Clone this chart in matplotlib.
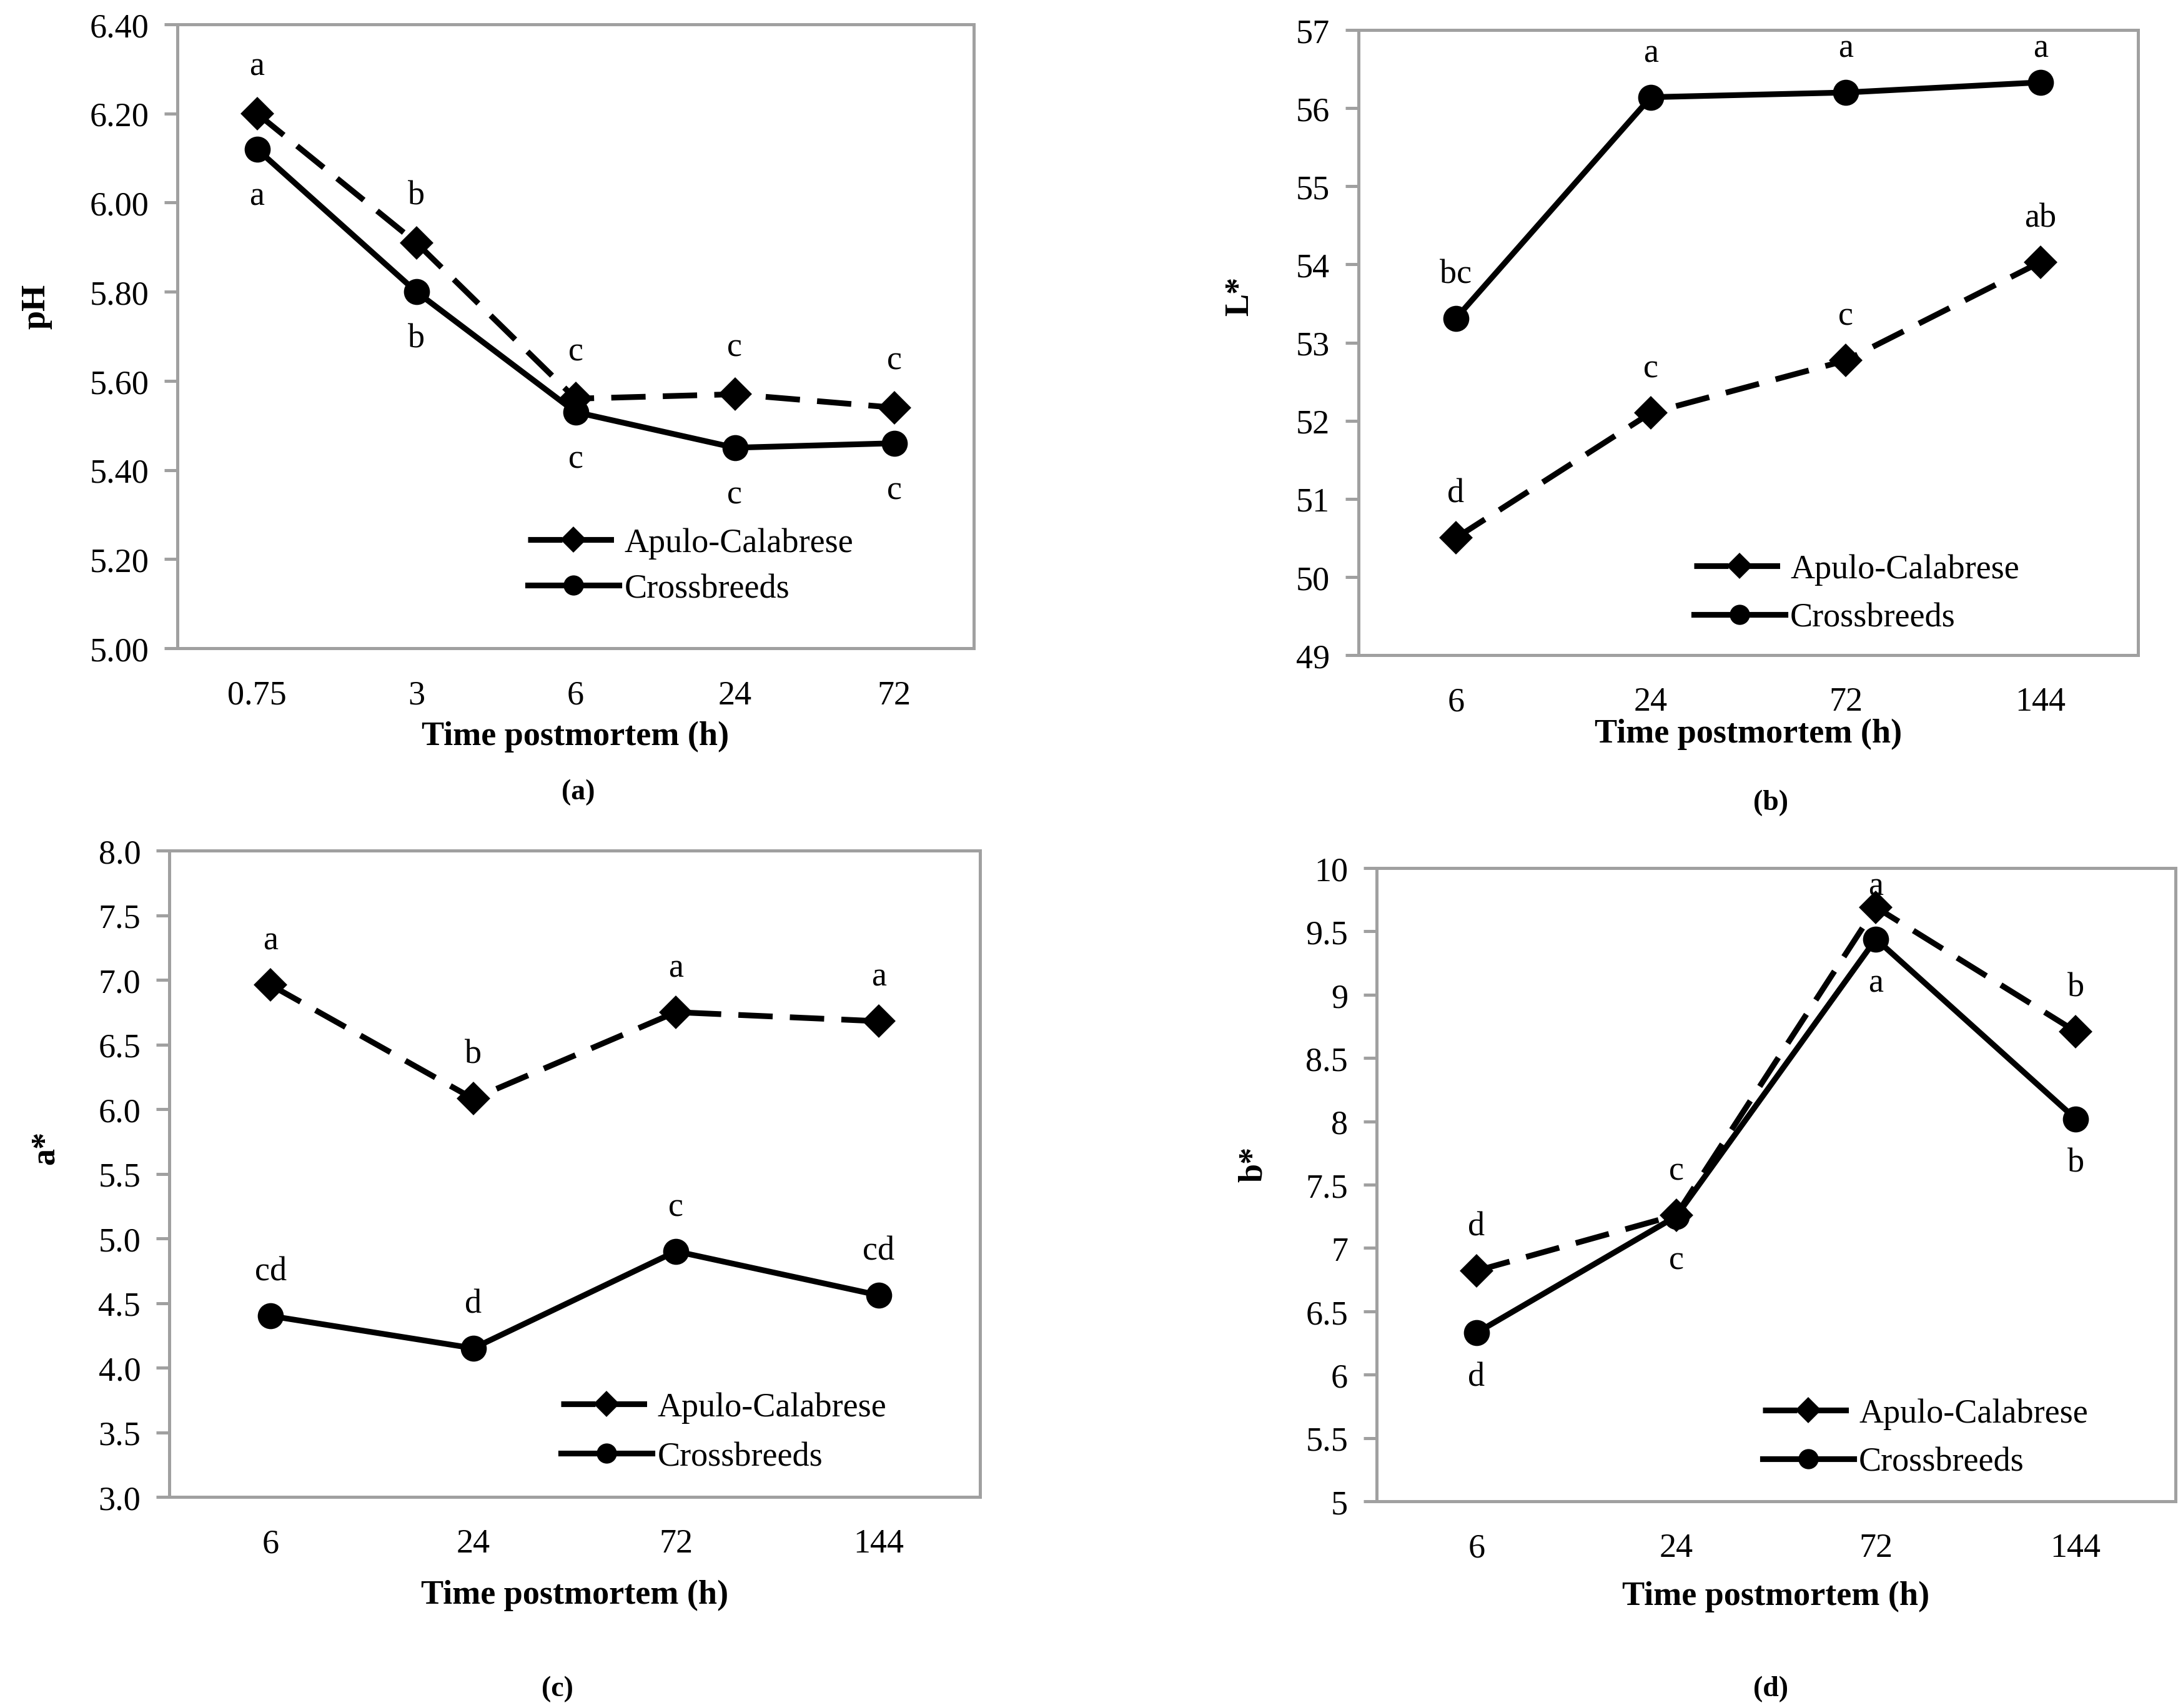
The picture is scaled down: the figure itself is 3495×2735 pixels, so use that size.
import matplotlib
matplotlib.use('Agg')
from matplotlib import pyplot as plt
import numpy as np

plt.rcParams['font.family'] = ['Liberation Serif', 'DejaVu Serif']

# ---- data ----
breeds = ['Apulo-Calabrese', 'Crossbreeds']

# (a) pH
times_a = ['0.75', '3', '6', '24', '72']
ph_apulo = [6.20, 5.91, 5.56, 5.57, 5.54]
ph_cross = [6.12, 5.80, 5.53, 5.45, 5.46]
ph_apulo_let = ['a', 'b', 'c', 'c', 'c']
ph_cross_let = ['a', 'b', 'c', 'c', 'c']

# (b) L*
times_bcd = ['6', '24', '72', '144']
L_apulo = [50.50, 52.10, 52.77, 54.03]
L_cross = [53.31, 56.14, 56.20, 56.33]
L_apulo_let = ['d', 'c', 'c', 'ab']
L_cross_let = ['bc', 'a', 'a', 'a']

# (c) a*
a_apulo = [6.96, 6.08, 6.75, 6.68]
a_cross = [4.40, 4.15, 4.90, 4.56]
a_apulo_let = ['a', 'b', 'a', 'a']
a_cross_let = ['cd', 'd', 'c', 'cd']

# (d) b*
b_apulo = [6.82, 7.26, 9.69, 8.71]
b_cross = [6.33, 7.25, 9.44, 8.02]
b_apulo_let = ['d', 'c', 'a', 'b']
b_cross_let = ['d', 'c', 'a', 'b']

W, H = 3495, 2736
fig = plt.figure(figsize=(W / 300, H / 300), dpi=300)

FRAME = '#a0a0a0'
FS = 13


def box(l, r, t, b):
    # pixel box -> figure fraction
    return [l / W, 1 - b / H, (r - l) / W, (b - t) / H]


def panel(rect, cats, ya, yc, la, lc, cross_below, ylim, yticks, yfmt,
          ylabel, ylab_xy, xlab_y, leg_xy, leg_sp, off=17):
    ax = fig.add_axes(rect)
    x = np.arange(len(cats))
    ax.plot(x, ya, ls=(0, (6, 3)), color='black', lw=2.2, marker='D',
            ms=8, label=breeds[0], zorder=3)
    ax.plot(x, yc, ls='-', color='black', lw=2.2, marker='o',
            ms=9, label=breeds[1], zorder=4)
    ax.set_xlim(-0.5, len(cats) - 0.5)
    ax.set_ylim(*ylim)
    ax.set_xticks(x)
    ax.set_xticklabels(cats)
    ax.set_yticks(yticks)
    ax.set_yticklabels([yfmt % v for v in yticks])
    ax.tick_params(axis='x', length=0, pad=12, labelsize=FS)
    ax.tick_params(axis='y', length=5, width=1.2, color=FRAME, pad=6,
                   labelsize=FS)
    for s in ax.spines.values():
        s.set_color(FRAME)
        s.set_linewidth(1.2)

    # significance letters, kept inside the plot area near the top
    ax_h = rect[3] * H
    span = ylim[1] - ylim[0]
    off_d = off * 300 / 72 / ax_h * span
    top_lim = ylim[1] - 29 / ax_h * span
    for i in range(len(cats)):
        yy = min(ya[i] + off_d, top_lim)
        ax.text(x[i], yy, la[i], ha='center', va='center', fontsize=FS)
        yy = yc[i] - off_d if cross_below else min(yc[i] + off_d, top_lim)
        ax.text(x[i], yy, lc[i], ha='center', va='center', fontsize=FS)

    ax.set_xlabel('Time postmortem (h)', fontsize=FS, fontweight='bold')
    ax.xaxis.label.set_va('center')
    ax.xaxis.set_label_coords(0.5, xlab_y)
    ax.set_ylabel(ylabel, fontsize=FS, fontweight='bold')
    ax.yaxis.label.set_va('center')
    ax.yaxis.set_label_coords(*ylab_xy)

    ax.legend(loc='center left', bbox_to_anchor=leg_xy, frameon=False,
              fontsize=FS, numpoints=1, handlelength=2.7, markerscale=0.75,
              handletextpad=0.15, borderpad=0, borderaxespad=0,
              labelspacing=leg_sp)
    return ax


# (a)
panel(box(284, 1559, 40, 1039), times_a, ph_apulo, ph_cross,
      ph_apulo_let, ph_cross_let, True, (5.0, 6.4),
      np.arange(5.0, 6.41, 0.2), '%.2f', 'pH', (-0.177, 0.549),
      -(1180 - 1039) / 999, (0.44, 0.132), 0.42, off=18)
# (b)
panel(box(2175, 3423, 49, 1050), times_bcd, L_apulo, L_cross,
      L_apulo_let, L_cross_let, False, (49, 57),
      np.arange(49, 57.1, 1), '%g', 'L*', (-0.152, 0.575),
      -(1176 - 1050) / 1001, (0.43, 0.098), 0.5)
# (c)
panel(box(271, 1569, 1363, 2398), times_bcd, a_apulo, a_cross,
      a_apulo_let, a_cross_let, False, (3.0, 8.0),
      np.arange(3.0, 8.01, 0.5), '%.1f', 'a*', (-0.153, 0.541),
      -(2555 - 2398) / 1035, (0.483, 0.10), 0.52)
# (d)
panel(box(2204, 3483, 1391, 2405), times_bcd, b_apulo, b_cross,
      b_apulo_let, b_cross_let, True, (5, 10),
      np.arange(5, 10.01, 0.5), '%g', 'b*', (-0.154, 0.533),
      -(2557 - 2405) / 1014, (0.483, 0.10), 0.5)

# panel captions
for lab, px, py in [('(a)', 926, 1269), ('(b)', 2835, 1286),
                    ('(c)', 892, 2705), ('(d)', 2835, 2705)]:
    fig.text(px / W, 1 - py / H, lab, ha='center', va='center',
             fontsize=11, fontweight='bold')

fig.savefig('out.png', dpi=300, facecolor='white')
